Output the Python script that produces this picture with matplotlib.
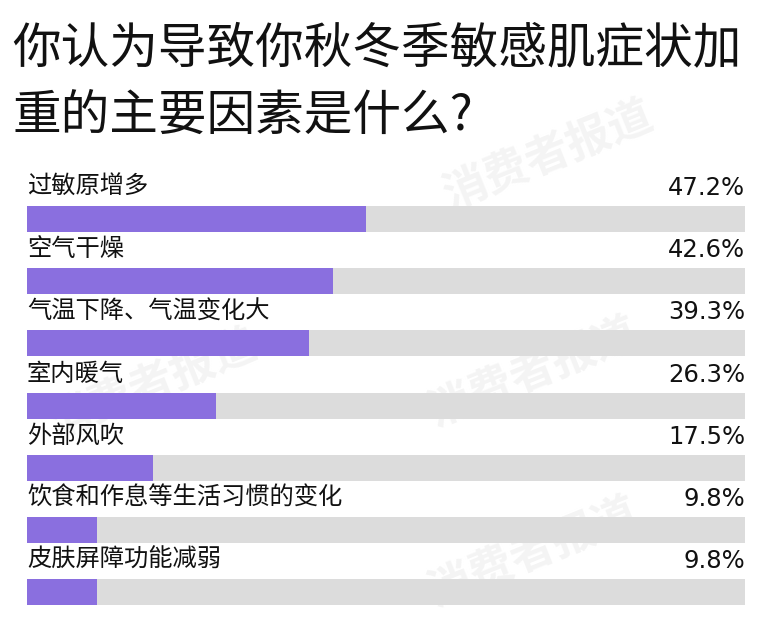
import matplotlib
matplotlib.use("Agg")
import matplotlib.pyplot as plt

plt.rcParams["font.family"] = ["Noto Sans CJK SC", "DejaVu Sans"]

# ---------------------------------------------------------
# Data
# ---------------------------------------------------------
title = "你认为导致你秋冬季敏感肌症状加\n重的主要因素是什么?"
categories = [
    "过敏原增多",
    "空气干燥",
    "气温下降、气温变化大",
    "室内暖气",
    "外部风吹",
    "饮食和作息等生活习惯的变化",
    "皮肤屏障功能减弱",
]
values = [47.2, 42.6, 39.3, 26.3, 17.5, 9.8, 9.8]

purple = "#8A6FDF"
track = "#DCDCDC"

# ---------------------------------------------------------
# Figure: axis y runs in pixels from the top, x in percent
# ---------------------------------------------------------
W, H = 762, 620
fig = plt.figure(figsize=(W / 100, H / 100), dpi=100)
ax = fig.add_axes([27 / W, 0, 718 / W, 1])
ax.set_xlim(0, 100)
ax.set_ylim(H, 0)
ax.axis("off")

# faint watermark, kept behind the bars (figure fractions from bottom-left)
for wx, wy in [(0.72, 0.75), (0.20, 0.38), (0.70, 0.40), (0.70, 0.11)]:
    ax.text(wx, wy, "消费者报道", fontsize=32, color="#F4F4F4", rotation=22,
            ha="center", va="center", fontweight="bold", zorder=1,
            transform=fig.transFigure, clip_on=False)

first_center = 219
step = 62.2
bar_h = 26
centers = [first_center + i * step for i in range(len(categories))]

ax.barh(centers, [100] * len(values), height=bar_h, color=track, zorder=2)
ax.barh(centers, values, height=bar_h, color=purple, zorder=3)

for c, cat, v in zip(centers, categories, values):
    top = c - bar_h / 2
    ax.text(0, top - 6, cat, fontsize=17.5, va="bottom", ha="left",
            color="#111111", clip_on=False, zorder=4)
    ax.text(100, top - 6, f"{v}%", fontsize=17.5, va="bottom", ha="right",
            color="#111111", family=["DejaVu Sans"], clip_on=False, zorder=4)

fig.text(12 / W, 1 - 24 / H, title, fontsize=35, va="top", ha="left",
         color="#111111", linespacing=1.47)

fig.savefig("out.png", dpi=100)
